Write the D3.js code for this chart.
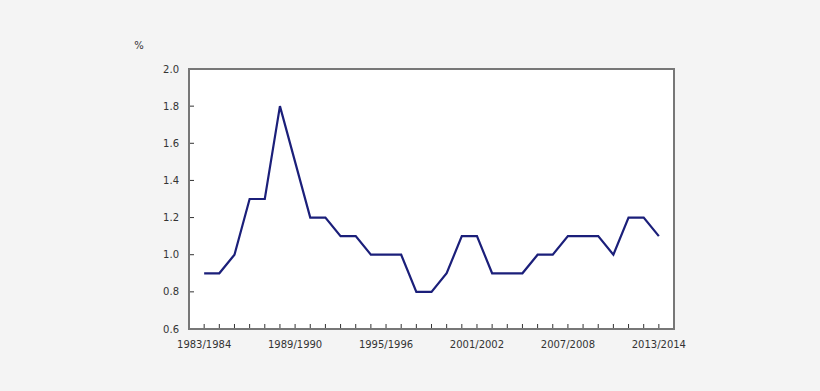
<!DOCTYPE html>
<html>
<head>
<meta charset="utf-8">
<script src="https://cdn.jsdelivr.net/npm/d3@7"></script>
<style>
  body { margin: 0; background: #f4f4f4; }
  text { font-family: "DejaVu Sans", Verdana, sans-serif; font-size: 10px; fill: #333; }
</style>
</head>
<body>
<div id="chart"></div>
<script>
// school years, one per point
var categories = ["1983/1984","1984/1985","1985/1986","1986/1987","1987/1988","1988/1989",
  "1989/1990","1990/1991","1991/1992","1992/1993","1993/1994","1994/1995","1995/1996",
  "1996/1997","1997/1998","1998/1999","1999/2000","2000/2001","2001/2002","2002/2003",
  "2003/2004","2004/2005","2005/2006","2006/2007","2007/2008","2008/2009","2009/2010",
  "2010/2011","2011/2012","2012/2013","2013/2014"];
var values = [0.9,0.9,1.0,1.3,1.3,1.8,1.5,1.2,1.2,1.1,1.1,1.0,1.0,1.0,0.8,0.8,0.9,1.1,1.1,
  0.9,0.9,0.9,1.0,1.0,1.1,1.1,1.1,1.0,1.2,1.2,1.1];
var yTicks = [0.6,0.8,1.0,1.2,1.4,1.6,1.8,2.0];
var xLabels = ["1983/1984","1989/1990","1995/1996","2001/2002","2007/2008","2013/2014"];

var W = 820, H = 391;
var margin = {top: 69, right: 146, bottom: 62, left: 189},
    width = W - margin.left - margin.right,
    height = H - margin.top - margin.bottom;

var svg = d3.select("#chart").append("svg")
  .attr("width", W).attr("height", H);

var g = svg.append("g")
  .attr("transform", "translate(" + margin.left + "," + margin.top + ")");

// one empty slot on each side of the series
var x = d3.scaleLinear().domain([-1, categories.length]).range([0, width]);
var y = d3.scaleLinear().domain([0.6, 2.0]).range([height, 0]);

g.append("rect")
  .attr("width", width).attr("height", height)
  .attr("fill", "#fff");

// y ticks pointing inward
g.selectAll(".yt").data(yTicks).enter().append("line")
  .attr("x1", 0).attr("x2", 5)
  .attr("y1", function(d) { return y(d); })
  .attr("y2", function(d) { return y(d); })
  .attr("stroke", "#333").attr("stroke-width", 1);

g.selectAll(".yl").data(yTicks).enter().append("text")
  .attr("x", -10)
  .attr("y", function(d) { return y(d); })
  .attr("dy", "0.35em")
  .attr("text-anchor", "end")
  .text(function(d) { return d.toFixed(1); });

// x ticks pointing up
g.selectAll(".xt").data(categories).enter().append("line")
  .attr("x1", function(d, i) { return x(i); })
  .attr("x2", function(d, i) { return x(i); })
  .attr("y1", height).attr("y2", height - 5)
  .attr("stroke", "#333").attr("stroke-width", 1);

g.selectAll(".xl").data(xLabels).enter().append("text")
  .attr("x", function(d) { return x(categories.indexOf(d)); })
  .attr("y", height + 19)
  .attr("text-anchor", "middle")
  .text(function(d) { return d; });

// frame
g.append("rect")
  .attr("width", width).attr("height", height)
  .attr("fill", "none")
  .attr("stroke", "#777").attr("stroke-width", 2);

g.append("path")
  .datum(values)
  .attr("fill", "none")
  .attr("stroke", "#1b1f7a")
  .attr("stroke-width", 2.2)
  .attr("stroke-linejoin", "miter")
  .attr("d", d3.line()
    .x(function(d, i) { return x(i); })
    .y(function(d) { return y(d); }));

svg.append("text")
  .attr("x", 139).attr("y", 49)
  .attr("text-anchor", "middle")
  .text("%");
</script>
</body>
</html>
